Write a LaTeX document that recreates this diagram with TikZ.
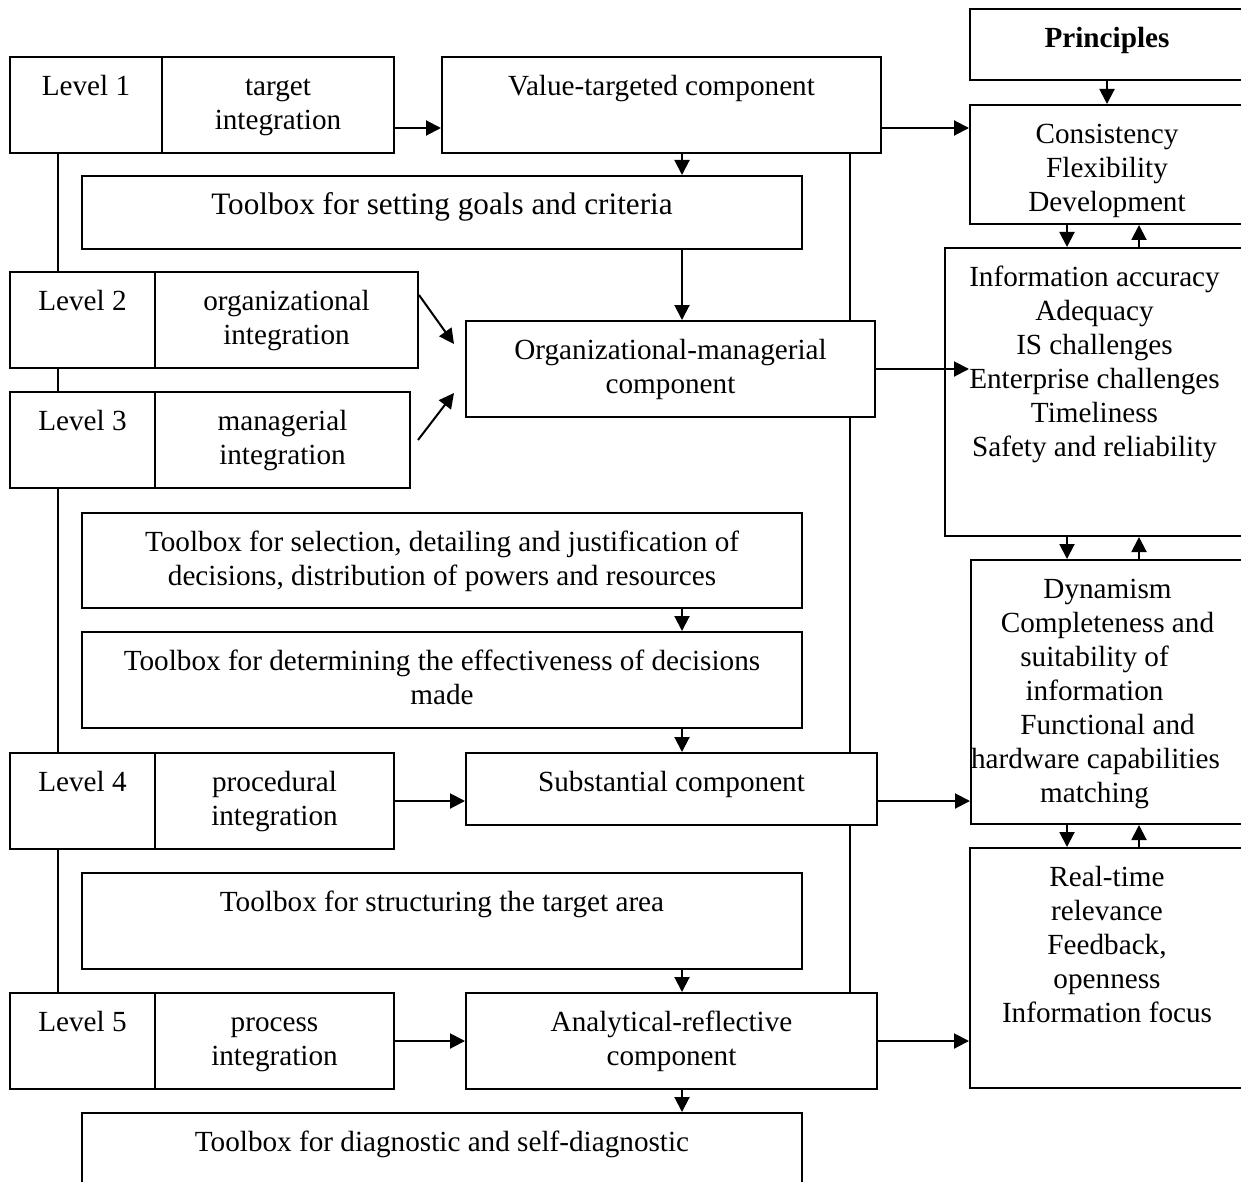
\documentclass[tikz,border=0pt]{standalone}
\usepackage{fontspec}
\setmainfont{Liberation Serif}
\usetikzlibrary{arrows.meta,fit}

\tikzset{
  box/.style={draw, line width=1pt, inner sep=0pt},
  lbl/.style={anchor=north, align=center, inner sep=0pt, yshift=-7.6pt,
    font=\fontsize{14.6}{17}\selectfont},
  arr/.style={line width=1pt, -{Triangle[length=7.5pt,width=7.5pt]}},
  link/.style={line width=1pt}
}
\newcommand{\Panel}[4]{\node[box, fit={#2 #3}] (#1) {}; \node[lbl] (#1t) at (#1.north) {\strut #4};}

\begin{document}
\begin{tikzpicture}[x=0.5pt, y=-0.5pt]
      \useasboundingbox (0,0) rectangle (1241,1182);
      \coordinate (spine) at (682,0);
      \coordinate (lline) at (58,0);
      \coordinate (rline) at (850,0);
      \coordinate (dn) at (1067,0);
      \coordinate (up) at (1139,0);
      \coordinate (row1) at (0,128);
      \coordinate (row4) at (0,801);
      \coordinate (row5) at (0,1041);

      \Panel{lv1}{(10,57)}{(162,153)}{Level 1}
      \Panel{tg1}{(162,57)}{(394,153)}{target\\integration}
      \Panel{vtc}{(442,57)}{(881,153)}{Value-targeted component}
      \Panel{goals}{(82,176)}{(802,249)}{\fontsize{15.6}{17}\selectfont Toolbox for setting goals and criteria}
      \Panel{lv2}{(10,272)}{(155,368)}{Level 2}
      \Panel{tg2}{(155,272)}{(418,368)}{organizational\\integration}
      \Panel{lv3}{(10,392)}{(155,488)}{Level 3}
      \Panel{tg3}{(155,392)}{(410,488)}{managerial\\integration}
      \Panel{om}{(466,321)}{(875,417)}{Organizational-managerial\\component}
      \Panel{sel}{(82,513)}{(802,608)}{Toolbox for selection, detailing and justification of\\decisions, distribution of powers and resources}
      \Panel{eff}{(82,632)}{(802,728)}{Toolbox for determining the effectiveness of decisions\\made}
      \Panel{lv4}{(10,753)}{(155,849)}{Level 4}
      \Panel{tg4}{(155,753)}{(394,849)}{procedural\\integration}
      \Panel{sub}{(466,753)}{(877,825)}{Substantial component}
      \Panel{str}{(82,873)}{(802,969)}{Toolbox for structuring the target area}
      \Panel{lv5}{(10,993)}{(155,1089)}{Level 5}
      \Panel{tg5}{(155,993)}{(394,1089)}{process\\integration}
      \Panel{ar}{(466,993)}{(877,1089)}{Analytical-reflective\\component}
      \Panel{diag}{(82,1113)}{(802,1210)}{Toolbox for diagnostic and self-diagnostic}

      \Panel{pr}{(970,9)}{(1244,80)}{\textbf{Principles}}
      \Panel{cons}{(970,105)}{(1244,224)}{Consistency\\Flexibility\\Development}
      \Panel{info}{(945,248)}{(1244,536)}{Information accuracy\\Adequacy\\IS challenges\\Enterprise challenges\\Timeliness\\Safety and reliability}
      \Panel{dyn}{(971,560)}{(1244,824)}{Dynamism\\Completeness and\\suitability of\kern13pt\\information\kern13pt\\Functional and\\hardware capabilities\kern12pt\\matching\kern13pt}
      \Panel{rt}{(970,848)}{(1244,1088)}{Real-time\\relevance\\Feedback,\\openness\\Information focus}

      \draw[link] (lline |- lv1.south) -- (lline |- lv2.north);
      \draw[link] (lline |- lv2.south) -- (lline |- lv3.north);
      \draw[link] (lline |- lv3.south) -- (lline |- lv4.north);
      \draw[link] (lline |- lv4.south) -- (lline |- lv5.north);
      \draw[link] (rline |- vtc.south) -- (rline |- om.north);
      \draw[link] (rline |- om.south) -- (rline |- sub.north);
      \draw[link] (rline |- sub.south) -- (rline |- ar.north);

      \draw[arr] (tg1.east |- row1) -- (vtc.west |- row1);
      \draw[arr] (vtc.east |- row1) -- (cons.west |- row1);
      \draw[arr] ([yshift=-12pt]tg2.north east) -- ([xshift=-5.5pt,yshift=12.5pt]om.west);
      \draw[arr] ([xshift=3.5pt]tg3.east) -- ([xshift=-5.5pt,yshift=-12pt]om.west);
      \draw[arr] (om.east) -- (om.east -| cons.west);
      \draw[arr] (tg4.east |- row4) -- (sub.west |- row4);
      \draw[arr] (sub.east |- row4) -- (dyn.west |- row4);
      \draw[arr] (tg5.east |- row5) -- (ar.west |- row5);
      \draw[arr] (ar.east |- row5) -- (rt.west |- row5);

      \draw[arr] (spine |- vtc.south) -- (spine |- goals.north);
      \draw[arr] (spine |- goals.south) -- (spine |- om.north);
      \draw[arr] (spine |- sel.south) -- (spine |- eff.north);
      \draw[arr] (spine |- eff.south) -- (spine |- sub.north);
      \draw[arr] (spine |- str.south) -- (spine |- ar.north);
      \draw[arr] (spine |- ar.south) -- (spine |- diag.north);

      \draw[arr] (pr.south) -- (pr.south |- cons.north);
      \draw[arr] (dn |- cons.south) -- (dn |- info.north);
      \draw[arr] (up |- info.north) -- (up |- cons.south);
      \draw[arr] (dn |- info.south) -- (dn |- dyn.north);
      \draw[arr] (up |- dyn.north) -- (up |- info.south);
      \draw[arr] (dn |- dyn.south) -- (dn |- rt.north);
      \draw[arr] (up |- rt.north) -- (up |- dyn.south);
\end{tikzpicture}
\end{document}
